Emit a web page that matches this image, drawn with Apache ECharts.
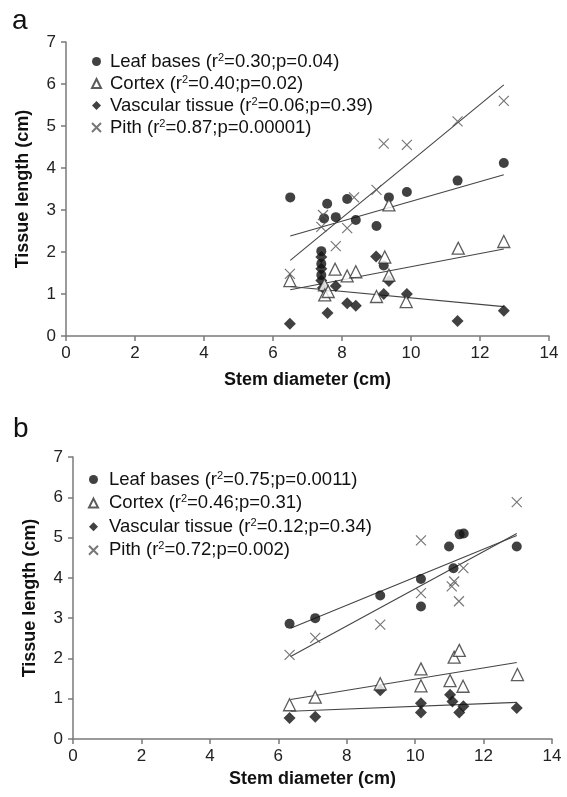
<!DOCTYPE html>
<html>
<head>
<meta charset="utf-8">
<script src="https://cdn.jsdelivr.net/npm/echarts@6/dist/echarts.min.js"></script>
<style>
html,body{margin:0;padding:0;background:#fff;}
#c{width:567px;height:797px;}
</style>
</head>
<body>
<div id="c"></div>
<script>
// ---------- Panel a data ----------
const legendA = ['Leaf bases (r2=0.30;p=0.04)', 'Cortex (r2=0.40;p=0.02)', 'Vascular tissue (r2=0.06;p=0.39)', 'Pith (r2=0.87;p=0.00001)'];
const leafA = [[6.50,3.30],[7.57,3.15],[8.15,3.26],[7.48,2.80],[7.82,2.83],[8.40,2.76],[9.00,2.62],[9.36,3.30],[9.88,3.43],[11.35,3.70],[12.69,4.12],[9.21,1.68],[7.40,2.02],[7.40,1.72],[7.40,1.45]];
const cortexA = [[6.49,1.32],[7.49,1.22],[7.50,0.98],[7.60,1.06],[7.80,1.59],[8.15,1.43],[8.40,1.53],[9.00,0.94],[9.24,1.88],[9.36,1.45],[9.86,0.82],[9.36,3.12],[11.37,2.09],[12.69,2.25]];
const vascA = [[6.49,0.29],[7.58,0.55],[8.15,0.78],[8.40,0.72],[7.82,1.19],[8.99,1.89],[9.21,1.00],[9.36,1.31],[9.88,1.00],[11.35,0.36],[12.69,0.60],[7.40,1.88],[7.40,1.60],[7.40,1.32],[7.45,1.15]];
const pithA = [[6.49,1.48],[7.40,2.60],[7.45,2.88],[7.82,2.14],[8.15,2.57],[8.35,3.30],[9.00,3.48],[9.21,4.58],[9.88,4.55],[11.35,5.11],[12.69,5.60]];
const leafFitA = [[6.5,2.38],[12.69,3.84]];
const cortexFitA = [[6.5,1.10],[12.69,2.07]];
const vascFitA = [[6.5,1.18],[12.69,0.70]];
const pithFitA = [[6.5,1.80],[12.69,5.98]];

// ---------- Panel b data ----------
const legendB = ['Leaf bases (r2=0.75;p=0.0011)', 'Cortex (r2=0.46;p=0.31)', 'Vascular tissue (r2=0.12;p=0.34)', 'Pith (r2=0.72;p=0.002)'];
const leafB = [[6.33,2.86],[7.08,3.00],[8.98,3.56],[10.17,3.97],[10.17,3.29],[11.12,4.24],[10.99,4.78],[11.30,5.08],[11.42,5.10],[12.97,4.78]];
const cortexB = [[6.33,0.85],[7.08,1.04],[8.98,1.37],[10.17,1.74],[10.17,1.32],[11.02,1.45],[11.14,2.03],[11.29,2.20],[11.40,1.31],[12.99,1.60]];
const vascB = [[6.33,0.52],[7.08,0.55],[8.98,1.21],[10.17,0.89],[10.17,0.66],[11.02,1.10],[11.09,0.93],[11.29,0.66],[11.41,0.81],[12.97,0.77]];
const pithB = [[6.33,2.09],[7.08,2.51],[8.98,2.84],[10.17,3.62],[10.17,4.93],[11.07,3.79],[11.14,3.91],[11.28,3.42],[11.41,4.24],[12.97,5.88]];
const leafFitB = [[6.36,2.75],[12.97,5.05]];
const cortexFitB = [[6.36,0.98],[12.97,1.90]];
const vascFitB = [[6.36,0.69],[12.97,0.91]];
const pithFitB = [[6.36,2.05],[12.97,5.10]];

const xTitle = 'Stem diameter (cm)';
const yTitle = 'Tissue length (cm)';

const FONT = '"Liberation Sans", Arial, sans-serif';
const XPATH = 'path://M0,0L10,10M10,0L0,10';

function axisX(gi, gap) {
  return {
    type: 'value', gridIndex: gi, min: 0, max: 14, interval: 2,
    name: xTitle, nameLocation: 'middle', nameGap: gap,
    nameTextStyle: {fontFamily: FONT, fontSize: 18, fontWeight: 'bold', color: '#111'},
    axisLine: {show: true, onZero: false, lineStyle: {color: '#7a7a7a', width: 1.5}},
    axisTick: {show: true, inside: false, length: 5, lineStyle: {color: '#7a7a7a', width: 1.5}},
    axisLabel: {fontFamily: FONT, fontSize: 17, color: '#222', margin: 9},
    splitLine: {show: false}
  };
}
function axisY(gi) {
  return {
    type: 'value', gridIndex: gi, min: 0, max: 7, interval: 1,
    name: yTitle, nameLocation: 'middle', nameGap: 34, nameRotate: 90,
    nameTextStyle: {fontFamily: FONT, fontSize: 18, fontWeight: 'bold', color: '#111'},
    axisLine: {show: true, onZero: false, lineStyle: {color: '#7a7a7a', width: 1.5}},
    axisTick: {show: true, inside: false, length: 5, lineStyle: {color: '#7a7a7a', width: 1.5}},
    axisLabel: {fontFamily: FONT, fontSize: 17, color: '#222', margin: 10},
    splitLine: {show: false}
  };
}

function scatter(name, data, gi, kind) {
  const base = {name: name, type: 'scatter', xAxisIndex: gi, yAxisIndex: gi, data: data, z: 3};
  if (kind === 'circle') {
    return Object.assign(base, {symbol: 'circle', symbolSize: 10, itemStyle: {color: '#111'}});
  } else if (kind === 'triangle') {
    return Object.assign(base, {symbol: 'triangle', symbolSize: 12, itemStyle: {color: '#fff', borderColor: '#333', borderWidth: 1.3}, z: 4});
  } else if (kind === 'diamond') {
    return Object.assign(base, {symbol: 'diamond', symbolSize: 12, itemStyle: {color: '#111'}});
  } else {
    return Object.assign(base, {symbol: XPATH, symbolSize: 10, itemStyle: {color: 'transparent', borderColor: '#555', borderWidth: 1.2}, z: 5});
  }
}
function fit(name, data, gi) {
  return {name: name, type: 'line', xAxisIndex: gi, yAxisIndex: gi, data: data, symbol: 'none', silent: true,
    lineStyle: {color: '#444', width: 1.1}, z: 2};
}

function makeFmt(pad) {
  return function (name) {
    const i = name.indexOf('r2=');
    return '{g' + pad + '|}{n|' + name.slice(0, i + 1) + '}{s|2}{n|' + name.slice(i + 2) + '}';
  };
}
function legend(names, left, top, gap, pad) {
  const rich = {
    n: {fontFamily: FONT, fontSize: 18.5, color: '#111', lineHeight: 18},
    s: {fontFamily: FONT, fontSize: 11, color: '#111', lineHeight: 18, padding: [0, 0, 8, 0]}
  };
  rich['g' + pad] = {width: pad, lineHeight: 18};
  return {
    data: names, orient: 'vertical', left: left, top: top, itemGap: gap, itemWidth: 9, itemHeight: 9,
    selectedMode: false,
    formatter: makeFmt(pad),
    textStyle: {fontFamily: FONT, fontSize: 18.5, color: '#111', rich: rich}
  };
}

const chart = echarts.init(document.getElementById('c'), null, {renderer: 'canvas'});
chart.setOption({
  backgroundColor: '#fff',
  animation: false,
  grid: [
    {left: 66, right: 18, top: 42, height: 294},
    {left: 73, right: 15, top: 457, height: 282}
  ],
  xAxis: [axisX(0, 35), axisX(1, 31)],
  yAxis: [axisY(0), axisY(1)],
  legend: [legend(legendA, 86, 47, 3, 4), legend(legendB, 83, 465, 4.6, 6)],
  graphic: [
    {type: 'text', left: 12, top: 7, style: {text: 'a', font: '28px ' + FONT, fill: '#111'}},
    {type: 'text', left: 13, top: 415, style: {text: 'b', font: '28px ' + FONT, fill: '#111'}}
  ],
  series: [
    fit('fitLeafA', leafFitA, 0), fit('fitCortexA', cortexFitA, 0), fit('fitVascA', vascFitA, 0), fit('fitPithA', pithFitA, 0),
    scatter(legendA[0], leafA, 0, 'circle'),
    scatter(legendA[2], vascA, 0, 'diamond'),
    scatter(legendA[1], cortexA, 0, 'triangle'),
    scatter(legendA[3], pithA, 0, 'x'),
    fit('fitLeafB', leafFitB, 1), fit('fitCortexB', cortexFitB, 1), fit('fitVascB', vascFitB, 1), fit('fitPithB', pithFitB, 1),
    scatter(legendB[0], leafB, 1, 'circle'),
    scatter(legendB[2], vascB, 1, 'diamond'),
    scatter(legendB[1], cortexB, 1, 'triangle'),
    scatter(legendB[3], pithB, 1, 'x')
  ]
});
</script>
</body>
</html>
